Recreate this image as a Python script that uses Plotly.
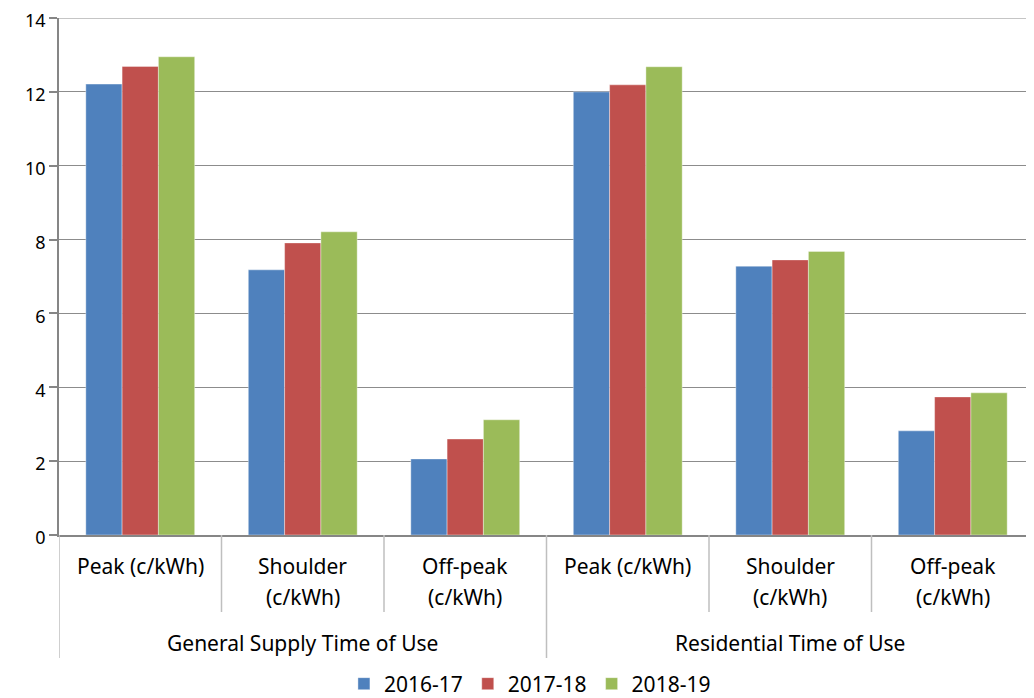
import plotly.graph_objects as go

# data
groups = ["General Supply Time of Use", "Residential Time of Use"]
tariff_lines = [("Peak (c/kWh)", ""), ("Shoulder", "(c/kWh)"), ("Off-peak", "(c/kWh)")]
categories = [f"{g} | {t[0]}" for g in groups for t in tariff_lines]

years = ["2016-17", "2017-18", "2018-19"]
v_2016 = [12.21, 7.18, 2.06, 12.0, 7.28, 2.82]
v_2017 = [12.69, 7.91, 2.60, 12.19, 7.45, 3.74]
v_2018 = [12.95, 8.21, 3.12, 12.68, 7.68, 3.85]
colors = ["#4F81BD", "#C0504D", "#9BBB59"]

font = "Noto Sans"
# the page body adds an 8px offset, so the figure is 8px smaller each way
W, H = 1026, 690
L, R, T, B = 51, 0, 10, 163
PLOT_TOP, PLOT_BOTTOM = 18, 535  # screen pixels


def py(pix):
    # screen pixel row -> paper y
    return (PLOT_BOTTOM - pix) / (PLOT_BOTTOM - PLOT_TOP)


fig = go.Figure()
for name, vals, col in zip(years, [v_2016, v_2017, v_2018], colors):
    fig.add_trace(go.Bar(
        x=categories, y=vals, name=name,
        marker=dict(color=col, line=dict(width=0.7, color="rgba(255,255,255,0.55)")),
    ))

# category labels (two levels) drawn as annotations
lab_size = 21
for i, cat in enumerate(categories):
    l1, l2 = tariff_lines[i % 3]
    fig.add_annotation(x=cat, y=py(566), xref="x", yref="paper", text=l1,
                       showarrow=False, yanchor="middle", font=dict(size=lab_size))
    if l2:
        fig.add_annotation(x=cat, y=py(597), xref="x", yref="paper", text=l2,
                           showarrow=False, yanchor="middle", font=dict(size=lab_size))
for j, g in enumerate(groups):
    fig.add_annotation(x=categories[j * 3 + 1], y=py(643), xref="x", yref="paper", text=g,
                       showarrow=False, yanchor="middle", font=dict(size=lab_size))

# dividers
for xpos in [0.5, 1.5, 3.5, 4.5]:
    fig.add_shape(type="line", xref="x", yref="paper", x0=xpos, x1=xpos,
                  y0=0, y1=py(612), line=dict(color="#BFBFBF", width=1.5))
for xpos in [-0.5, 2.5]:
    fig.add_shape(type="line", xref="x", yref="paper", x0=xpos, x1=xpos,
                  y0=0, y1=py(658), line=dict(color="#BFBFBF", width=1.5))

fig.update_layout(
    width=W, height=H,
    plot_bgcolor="white", paper_bgcolor="white",
    barmode="group", bargap=0.33, bargroupgap=0,
    margin=dict(l=L, r=R, t=T, b=B, autoexpand=False),
    font=dict(family=font, size=20, color="black"),
    legend=dict(orientation="h", x=0.483, xanchor="center", y=py(684), yanchor="middle",
                font=dict(size=lab_size), itemwidth=30, traceorder="normal"),
    showlegend=True,
)
fig.update_xaxes(
    range=[-0.5, 5.5],
    showticklabels=False, ticks="",
    showline=True, linecolor="#868686", linewidth=1.5,
    showgrid=False,
)
fig.update_yaxes(
    range=[0, 14], dtick=2,
    showgrid=True, gridcolor="#8C8C8C", gridwidth=1,
    showline=True, linecolor="#868686", linewidth=1.5,
    ticks="outside", ticklen=8, tickcolor="#868686", tickwidth=1.5,
    tickfont=dict(size=18), zeroline=False, ticklabeloverflow="allow",
    ticklabelshift=3,
)
# top gridline at 14 (plotly drops the grid line on the range edge)
fig.add_shape(type="line", xref="paper", yref="y", x0=0, x1=1, y0=14, y1=14,
              line=dict(color="#8C8C8C", width=1))
fig.write_html("out.html")
